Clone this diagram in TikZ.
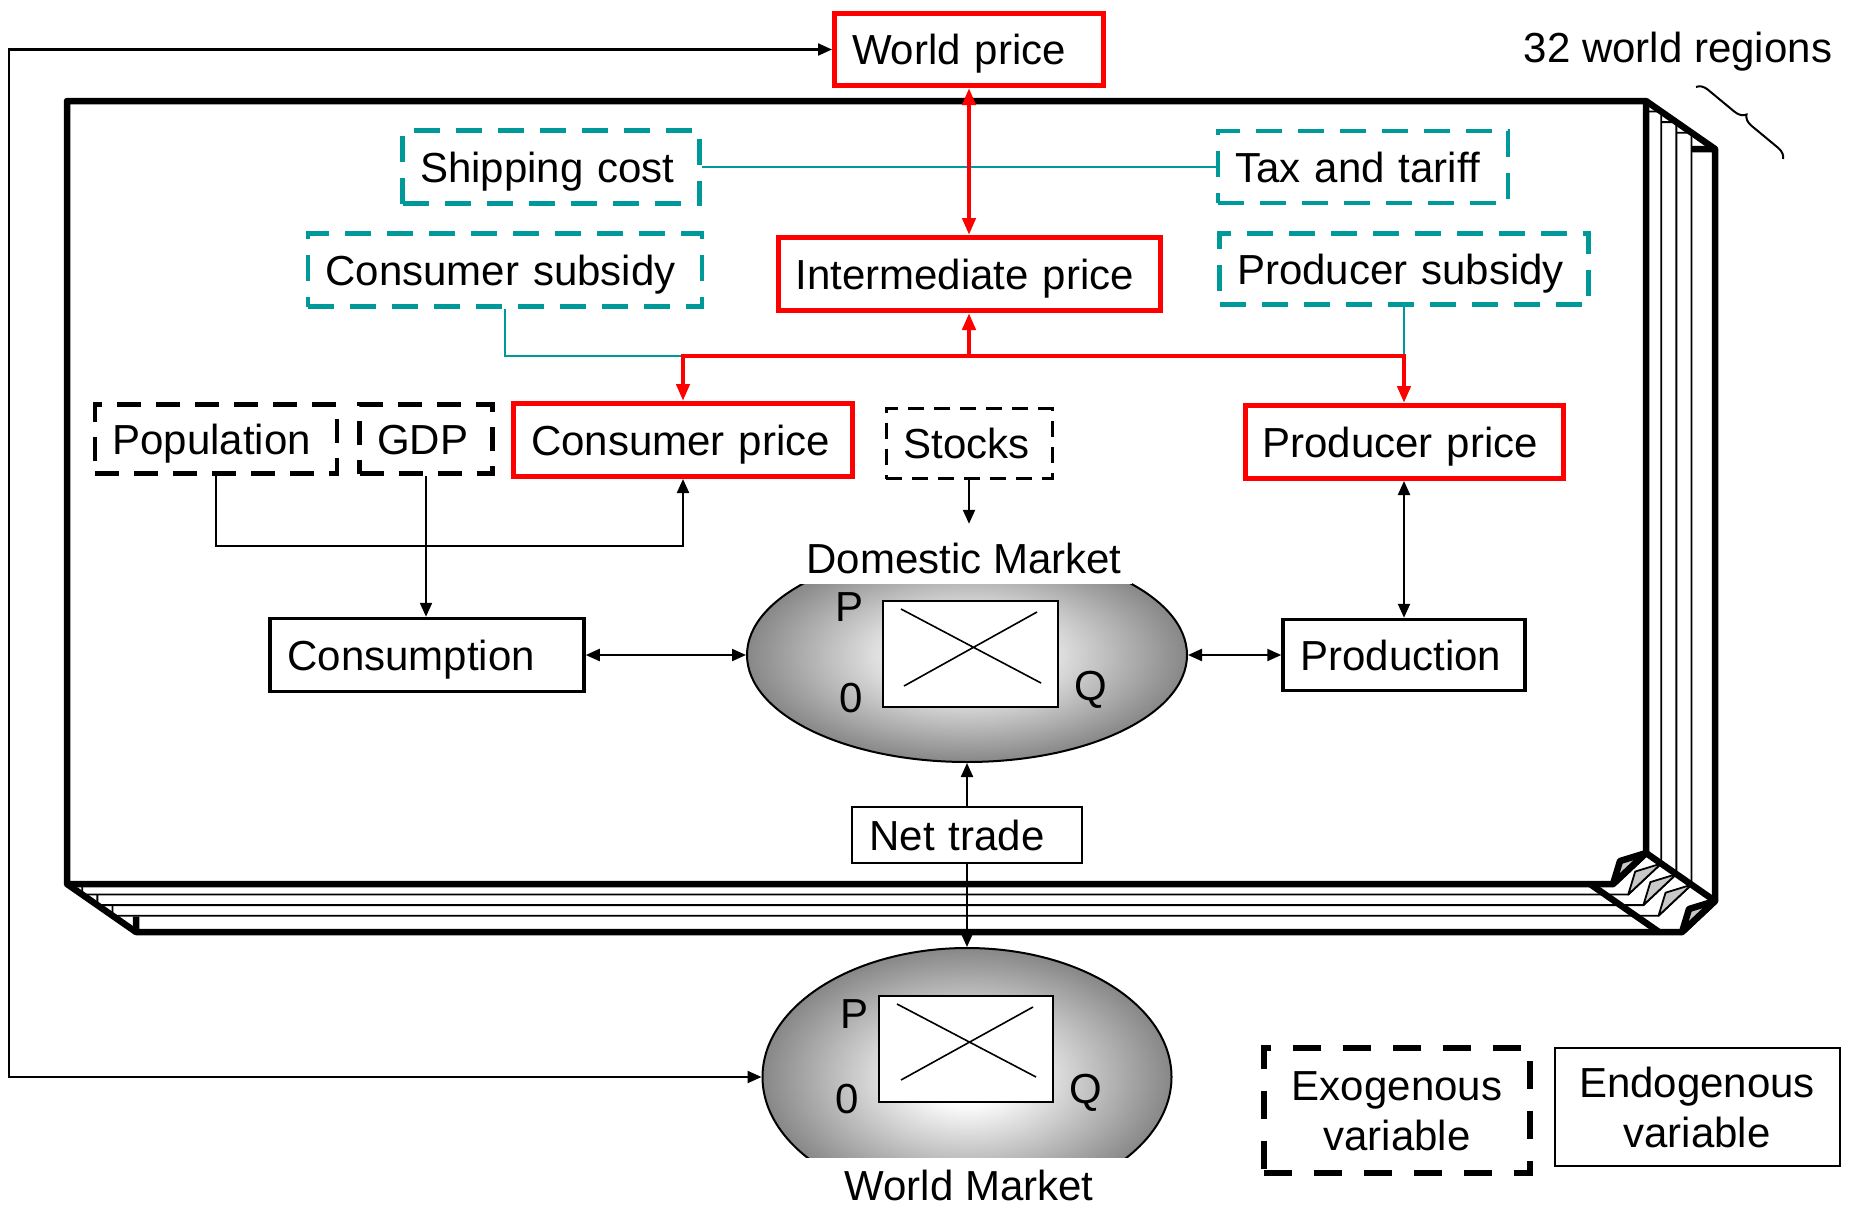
\documentclass[tikz,border=0pt]{standalone}
\usepackage{fontspec}
\setmainfont{Liberation Sans}
\usetikzlibrary{arrows.meta,shapes.geometric,decorations.pathreplacing}
\definecolor{tealline}{RGB}{0,153,153}
\definecolor{flapgray}{RGB}{200,200,200}
\pgfdeclareradialshading{marketshade}{\pgfpoint{0bp}{0bp}}{color(0bp)=(white); color(5bp)=(white); color(25bp)=(black!47); color(50bp)=(black!47)}
\begin{document}
\begin{tikzpicture}[x=1pt, y=-1pt,
  every node/.style={font=\fontsize{42}{50}\selectfont, inner sep=0pt},
  lbl/.style={text height=30pt, text depth=0pt, inner xsep=17.5pt, inner ysep=0pt, align=left},
  redbox/.style={lbl, draw=red, line width=5pt, fill=white},
  tealbox/.style={lbl, draw=tealline, line width=4.5pt, dash pattern=on 26pt off 16pt, fill=white},
  exobox/.style={lbl, draw=black, line width=4.5pt, dash pattern=on 24pt off 15pt, fill=white},
  stockbox/.style={lbl, draw=black, line width=3pt, dash pattern=on 16pt off 10pt, fill=white},
  solidbox/.style={lbl, draw=black, line width=3.5pt, fill=white},
  frame/.style={line width=6.5pt, line join=round},
  sheet/.style={line width=1.8pt, line join=round},
  blk/.tip={Triangle[length=14pt,width=12pt]},
  rtip/.tip={Triangle[length=17pt,width=13pt]},
  conn/.style={line width=2.2pt, -blk},
  dconn/.style={line width=2.2pt, blk-blk},
  redconn/.style={draw=red, line width=4.5pt, -rtip},
  tealconn/.style={draw=tealline, line width=2pt},
  market/.style={ellipse, draw, line width=2pt, shade, shading=marketshade},
  graphbox/.style={draw, line width=2pt, fill=white, minimum width=175pt, minimum height=106pt},
  mktlabel/.style={fill=white, text height=38pt, text depth=0pt, inner ysep=11pt, anchor=base},
  legend/.style={align=center, text height=80pt, text depth=0pt}
]
\useasboundingbox (0,0) rectangle (1849,1207);

% ---- stack of regional sheets ----
% back sheet
\draw[frame] (1691.5,149) -- (1715,149) -- (1715,901) -- (1682,932) -- (136,932) -- (136,916.7);
\filldraw[frame, fill=flapgray] (1682,932) -- (1689,909) -- (1715,901) -- cycle;
% middle sheets
\foreach \t/\p in {0.66/0.44, 0.44/0.22, 0.22/0} {
  \draw[sheet] ({1646+69*\p},{101+48*\t}) -- ({1646+69*\t},{101+48*\t})
     -- ({1646+69*\t},{853+48*\t}) -- ({1613+69*\t},{884+48*\t})
     -- ({67+69*\t},{884+48*\t}) -- ({67+69*\t},{884+48*\p});
  \filldraw[sheet, fill=flapgray] ({1613+69*\t},{884+48*\t}) -- ({1620+69*\t},{861+48*\t})
     -- ({1646+69*\t},{853+48*\t}) -- cycle;
}
% front sheet
\draw[frame, fill=white] (67,101) -- (1646,101) -- (1646,853) -- (1613,884) -- (67,884) -- cycle;
\filldraw[frame, fill=flapgray] (1613,884) -- (1620,861) -- (1646,853) -- cycle;
% stack edges
\draw[frame] (1646,101) -- (1715,149);
\draw[frame] (67,884) -- (136,932);
\draw[frame] (1646,853) -- (1715,901);
\draw[frame] (1590,884) -- (1659,932);

% region count label
\node[text height=30pt, text depth=0pt] (reg) at (1678,48) {32 world regions};
\draw[line width=2pt, decorate, decoration={brace, amplitude=11pt}] (1696,87) -- (1783,159);

% ---- variable boxes ----
\node[redbox, text width=234pt, minimum height=72pt] (wp) at (969,49.5) {World price};
\node[tealbox, text width=262pt, minimum height=73pt] (sc) at (551,167) {Shipping cost};
\node[tealbox, text width=255pt, minimum height=72pt] (tt) at (1363,167) {Tax and tariff};
\node[tealbox, text width=359pt, minimum height=73pt] (csub) at (505,270) {Consumer subsidy};
\node[redbox, text width=347pt, minimum height=73pt] (ip) at (969,274) {Intermediate price};
\node[tealbox, text width=334pt, minimum height=71pt] (psub) at (1404,269) {Producer subsidy};
\node[exobox, text width=207pt, minimum height=69pt] (pop) at (216,439) {Population};
\node[exobox, text width=98pt, minimum height=69pt] (gdp) at (426,439) {GDP};
\node[redbox, text width=304pt, minimum height=73pt] (cp) at (683,440) {Consumer price};
\node[stockbox, text width=131pt, minimum height=70pt] (st) at (969,443.5) {Stocks};
\node[redbox, text width=283pt, minimum height=73pt] (pp) at (1404,442) {Producer price};
\node[solidbox, text width=279pt, minimum height=73pt] (cons) at (427,655) {Consumption};
\node[solidbox, text width=207pt, minimum height=71pt] (prod) at (1404,655) {Production};
\node[lbl, draw, line width=2pt, fill=white, text width=195pt, minimum height=56pt] (nt) at (967,835) {Net trade};

% ---- domestic market ----
\node[market, minimum width=440pt, minimum height=214pt] (dmk) at (967,655) {};
\node[graphbox] (dgraph) at (970.5,654) {};
\draw[line width=1.6pt] (901,609) -- (1041,683) (904,686) -- (1037,612);
\node (dP) at (849,607) {P};
\node (d0) at (851,698) {0};
\node (dQ) at (1091,690) {Q};
\node[mktlabel, minimum width=335pt] (dml) at (964,573) {Domestic Market};

% ---- world market ----
\node[market, minimum width=409pt, minimum height=258pt] (wmk) at (967,1077) {};
\node[graphbox, minimum width=174pt] (wgraph) at (966,1049) {};
\draw[line width=1.6pt] (897,1004) -- (1036,1077) (901,1080) -- (1033,1007);
\node (wP) at (854,1014) {P};
\node (w0) at (847,1099) {0};
\node (wQ) at (1086,1093) {Q};
\node[mktlabel, text height=30pt, inner ysep=12pt, minimum width=330pt] (wml) at (969,1200) {World Market};

% ---- legend ----
\node[legend, draw, line width=6pt, dash pattern=on 28pt off 22pt, minimum width=266pt, minimum height=125pt] (exo) at (1397,1110) {Exogenous\\variable};
\node[legend, draw, line width=2pt, minimum width=285pt, minimum height=118pt] (endo) at (1697,1107) {Endogenous\\variable};

% ---- connectors ----
\coordinate (fb) at (9,0);
\draw[dconn] (wp.west) -- (wp.west -| fb) -- (fb |- wmk.west) -- (wmk.west);

\coordinate (rj) at (969,356);
\draw[tealconn] (sc.east) -- (tt.west);
\draw[tealconn] (csub.south) |- (rj -| cp.north);
\draw[tealconn] (psub.south) -- (psub.south |- rj);
\draw[red, line width=4.5pt, rtip-rtip] (wp.south) -- (ip.north);
\draw[redconn, line cap=rect] (rj) -- (ip.south);
\draw[redconn, line cap=rect] (rj) -| (cp.north);
\draw[redconn, line cap=rect] (rj) -| (pp.north);

\draw[conn] (pop.south) -- ++(0,70) -| (cp.south);
\draw[conn] (gdp.south) -- (gdp.south |- cons.north);
\draw[conn] (st.south) -- (st.south |- dml.north);
\draw[dconn] (cons.east) -- (dmk.west);
\draw[dconn] (dmk.east) -- (prod.west);
\draw[dconn] (pp.south) -- (prod.north);
\draw[conn] (nt.north) -- (dmk.south);
\draw[conn] (nt.south) -- (wmk.north);
\end{tikzpicture}
\end{document}
